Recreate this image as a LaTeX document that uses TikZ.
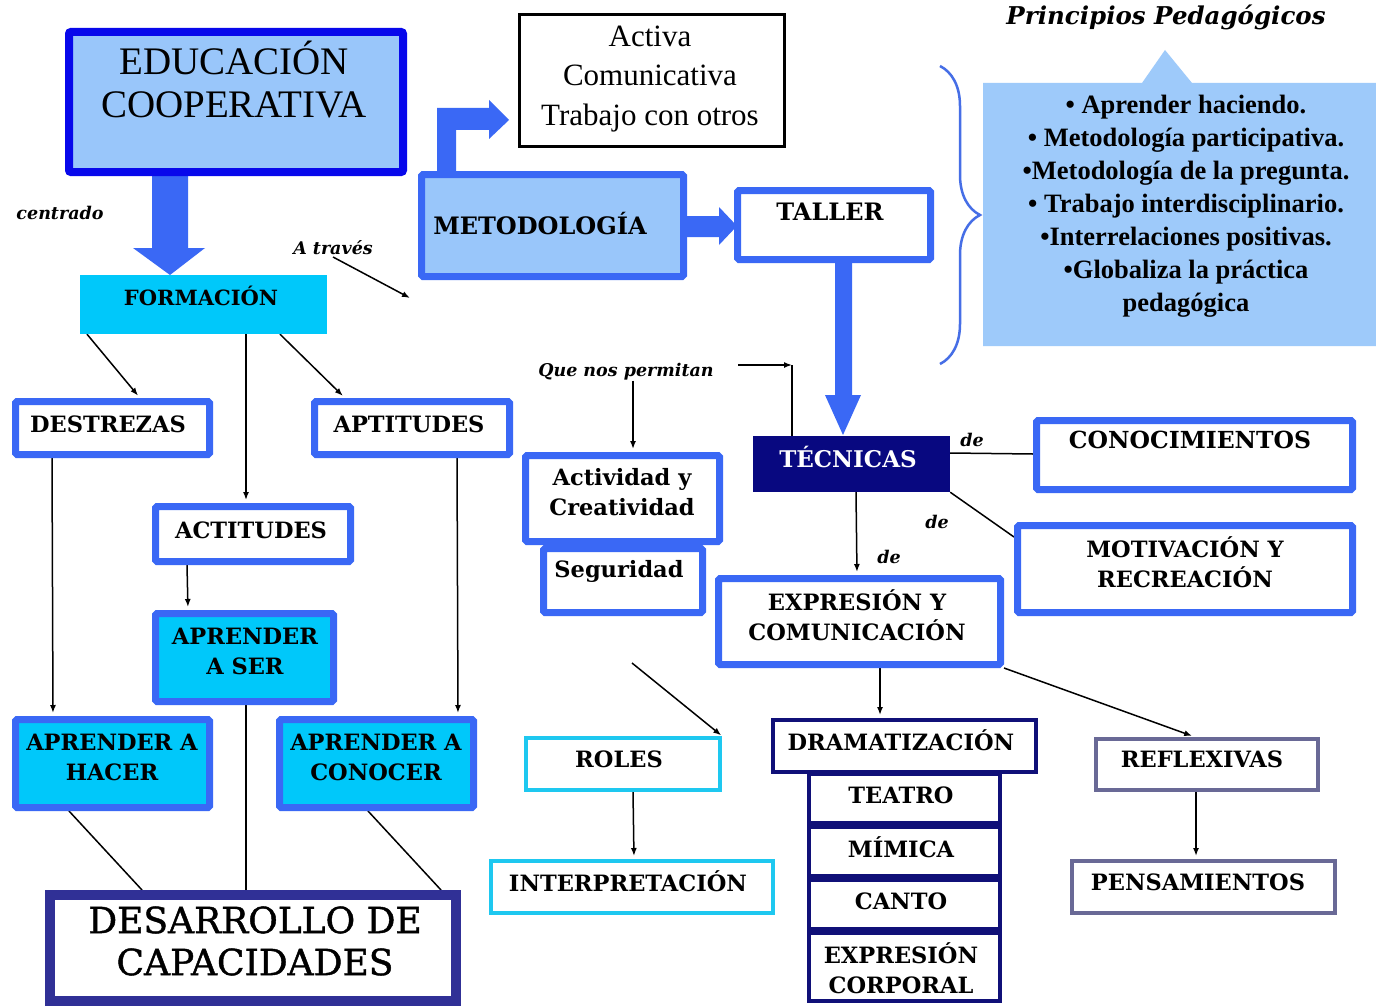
\documentclass[tikz,border=0pt]{standalone}
\usepackage{fontspec}
\setmainfont{DejaVu Serif}
\newfontfamily\tnr{Liberation Serif}
\newfontfamily\heavyserif[FakeBold=1.2]{DejaVu Serif}
\usetikzlibrary{arrows.meta,decorations.pathreplacing}
\definecolor{pureblue}{RGB}{8,8,235}
\definecolor{boxblue}{RGB}{58,104,245}
\definecolor{lightfill}{RGB}{153,198,250}
\definecolor{cyanfill}{RGB}{0,200,250}
\definecolor{navy}{RGB}{8,8,128}
\definecolor{desblue}{RGB}{48,48,150}
\definecolor{dramanavy}{RGB}{16,16,120}
\definecolor{rolecyan}{RGB}{30,200,240}
\definecolor{reflgray}{RGB}{105,105,150}
\definecolor{callfill}{RGB}{158,202,250}
\definecolor{bracecol}{RGB}{70,110,230}
\pgfdeclarelayer{bg}
\pgfsetlayers{bg,main}
\begin{document}
\begin{tikzpicture}[x=1pt,y=-1pt,
  every node/.style={inner sep=0pt},
  box/.style={draw=boxblue, line width=7pt, fill=white, rounded corners=1.5pt},
  cbox/.style={box, fill=cyanfill},
  thinbox/.style={draw=#1, line width=4pt, fill=white},
  lbl/.style={font=\bfseries\fontsize{22.5}{30}\selectfont, align=center},
  itl/.style={font=\bfseries\itshape\fontsize{17.5}{22}\selectfont},
  conn/.style={line width=1.5pt, black},
  arr/.style={conn, -{Latex[length=8pt,width=6pt]}, shorten >=3pt},
  blk/.style={fill=boxblue}
]
\useasboundingbox (0,0) rectangle (1376,1006);
\begin{pgfonlayer}{bg}
\fill[white] (0,0) rectangle (1376,1006);
\end{pgfonlayer}

% ---------- boxes ----------
\node[draw=pureblue, line width=8pt, fill=lightfill, rounded corners=2pt, minimum width=334pt, minimum height=140pt] (educ) at (236,102) {};
\node[fill=cyanfill, minimum width=247pt, minimum height=59pt] (form) at (203.5,304.5) {};
\node[box, minimum width=194pt, minimum height=53pt] (destr) at (112.5,428) {};
\node[box, minimum width=195pt, minimum height=53pt] (aptit) at (412,428) {};
\node[box, minimum width=195pt, minimum height=55pt] (actit) at (253,534) {};
\node[cbox, minimum width=178pt, minimum height=88pt] (aser) at (244.5,657.5) {};
\node[cbox, minimum width=194pt, minimum height=88pt] (ahacer) at (112.5,763.5) {};
\node[cbox, minimum width=194pt, minimum height=88pt] (aconocer) at (376.5,763.5) {};
\node[draw=desblue, line width=10pt, fill=white, minimum width=406pt, minimum height=106pt] (desarr) at (253,948) {};

\node[draw=black, line width=3pt, fill=white, minimum width=265pt, minimum height=132pt] (activa) at (652,80.5) {};
\node[box, fill=lightfill, minimum width=262pt, minimum height=102pt] (metod) at (552.5,225.5) {};
\node[box, minimum width=193pt, minimum height=69pt] (taller) at (834,225) {};
\node[fill=navy, minimum width=197pt, minimum height=56pt] (tecn) at (851.5,464) {};
\node[box, minimum width=159pt, minimum height=64pt] (segur) at (623,580.5) {};
\node[box, minimum width=194pt, minimum height=86pt] (activ) at (622.5,498.5) {};
\node[box, minimum width=316pt, minimum height=69pt] (conoc) at (1194.5,455) {};
\node[box, minimum width=335pt, minimum height=87pt] (motiv) at (1185,569) {};
\node[box, minimum width=282pt, minimum height=86pt] (expr) at (859.5,621.5) {};
\node[thinbox=rolecyan, minimum width=194pt, minimum height=52pt] (roles) at (623,764) {};
\node[thinbox=rolecyan, minimum width=282pt, minimum height=52pt] (interp) at (632,887) {};
\node[thinbox=dramanavy, minimum width=263pt, minimum height=52pt] (drama) at (904.5,746) {};
\node[thinbox=dramanavy, minimum width=191pt, minimum height=49pt] (teatro) at (904.5,798.5) {};
\node[thinbox=dramanavy, minimum width=191pt, minimum height=49pt] (mimica) at (904.5,851.5) {};
\node[thinbox=dramanavy, minimum width=191pt, minimum height=49pt] (canto) at (904.5,904.5) {};
\node[thinbox=dramanavy, minimum width=191pt, minimum height=68pt] (expcorp) at (904.5,967) {};
\node[thinbox=reflgray, minimum width=222pt, minimum height=51pt] (reflex) at (1207,764.5) {};
\node[thinbox=reflgray, minimum width=263pt, minimum height=52pt] (pensa) at (1203.5,887) {};

% callout and brace
\fill[callfill] (983,83) -- (1142,83) -- (1165,50) -- (1192,83) -- (1376,83) -- (1376,346) -- (983,346) -- cycle;
\draw[bracecol, line width=2.5pt, decorate, decoration={brace, amplitude=40pt}] (940,66) -- (940,364);

% ---------- texts ----------
\node[font=\tnr\fontsize{39}{43}\selectfont, align=center] (t_educ) at (234,80) {EDUCACIÓN\\COOPERATIVA};
\node[font=\tnr\fontsize{31}{39.5}\selectfont, align=center] (t_activa) at (650,79) {Activa\\Comunicativa\\Trabajo con otros};
\node[itl] (t_centrado) at (60,213) {centrado};
\node[itl] (t_atraves) at (333,248) {A través};
\node[lbl, font=\bfseries\fontsize{21}{28}\selectfont] (t_form) at (201,296) {FORMACIÓN};
\node[lbl] (t_destr) at (108,424) {DESTREZAS};
\node[lbl] (t_aptit) at (409,424) {APTITUDES};
\node[lbl] (t_actit) at (251,530) {ACTITUDES};
\node[lbl] (t_aser) at (245,651) {APRENDER\\A SER};
\node[lbl] (t_hacer) at (112,757) {APRENDER A\\HACER};
\node[lbl] (t_conocer) at (376,757) {APRENDER A\\CONOCER};
\node[font=\heavyserif\fontsize{36}{42}\selectfont, align=center] (t_desarr) at (255,941) {DESARROLLO DE\\CAPACIDADES};
\node[lbl, font=\bfseries\fontsize{24}{30}\selectfont] (t_metod) at (540,224) {METODOLOGÍA};
\node[lbl, font=\bfseries\fontsize{24}{30}\selectfont] (t_taller) at (830,212) {TALLER};
\node[lbl, text=white, font=\bfseries\fontsize{23}{30}\selectfont] (t_tecn) at (848,457) {TÉCNICAS};
\node[itl] (t_que) at (626,372) {Que nos permitan};
\node[lbl] (t_activ) at (622,492) {Actividad y\\Creatividad};
\node[lbl] (t_segur) at (619,571) {Seguridad};
\node[itl] (t_de1) at (972,440) {de};
\node[itl] (t_de2) at (937,522) {de};
\node[itl] (t_de3) at (889,557) {de};
\node[lbl, font=\bfseries\fontsize{23.5}{30}\selectfont] (t_conoc) at (1190,440) {CONOCIMIENTOS};
\node[lbl] (t_motiv) at (1185,562) {MOTIVACIÓN Y\\RECREACIÓN};
\node[lbl] (t_expr) at (857,615) {EXPRESIÓN Y\\COMUNICACIÓN};
\node[lbl] (t_roles) at (619,759) {ROLES};
\node[lbl] (t_interp) at (628,881) {INTERPRETACIÓN};
\node[lbl] (t_drama) at (901,740) {DRAMATIZACIÓN};
\node[lbl] (t_teatro) at (901,795) {TEATRO};
\node[lbl] (t_mimica) at (901,847) {MÍMICA};
\node[lbl] (t_canto) at (901,901) {CANTO};
\node[lbl] (t_expcorp) at (901,968) {EXPRESIÓN\\CORPORAL};
\node[lbl] (t_reflex) at (1202,759) {REFLEXIVAS};
\node[lbl] (t_pensa) at (1198,882) {PENSAMIENTOS};
\node[font=\bfseries\itshape\fontsize{24.5}{28}\selectfont] (t_princ) at (1166,17) {Principios Pedagógicos};
\node[font=\tnr\bfseries\fontsize{26.5}{33}\selectfont, align=center] (t_list) at (1186,206) {• Aprender haciendo.\\ • Metodología participativa.\\ •Metodología de la pregunta.\\ • Trabajo interdisciplinario.\\ •Interrelaciones positivas.\\ •Globaliza la práctica\\ pedagógica};

% free coordinates
\coordinate (atr_end) at (410,298);
\coordinate (elb_start) at (738,365);
\coordinate (elb_corner) at (792,365);
\coordinate (roles_start) at (632,663);

% ---------- connectors (behind boxes) ----------
\begin{pgfonlayer}{bg}
% block arrows
\fill[blk] (152,170) -- (188,170) -- (188,248) -- (205,248) -- (170,275) -- (133,248) -- (152,248) -- cycle;
\fill[blk] (437,176) -- (437,108) -- (489,108) -- (489,100) -- (509,120) -- (489,139) -- (489,130) -- (456,130) -- (456,176) -- cycle;
\fill[blk] (684,216) -- (719,216) -- (719,207) -- (737,226) -- (719,245) -- (719,237) -- (684,237) -- cycle;
\fill[blk] (835,258) -- (852,258) -- (852,395) -- (861,395) -- (843,435) -- (825,395) -- (835,395) -- cycle;
% thin connectors
\draw[arr] (form.south -| 87,0) -- (destr.north -| 140,0);
\draw[arr] (form.south -| 246,0) -- (actit.north -| 246,0);
\draw[arr] (form.south -| 280,0) -- (aptit.north -| 345,0);
\draw[arr] (actit.south -| 187,0) -- (aser.north -| 188,0);
\draw[arr] (destr.south -| 52,0) -- (ahacer.north -| 53,0);
\draw[arr] (aptit.south -| 457,0) -- (aconocer.north -| 458,0);
\draw[conn] (ahacer.south -| 69,0) -- (desarr.north -| 142,0);
\draw[conn] (aser.south -| 246,0) -- (desarr.north -| 246,0);
\draw[conn] (aconocer.south -| 368,0) -- (desarr.north -| 441,0);
\draw[arr] (t_que.south -| 633,0) -- (activ.north -| 633,0);
\draw[conn] (elb_corner) -- (tecn.north -| elb_corner);
\draw[conn] (tecn.east |- 0,453) -- (conoc.west |- 0,454);
\draw[conn] (tecn.south east) -- (motiv.west |- 0,537);
\draw[arr] (tecn.south -| 856,0) -- (expr.north -| 857,0);
\draw[arr] (expr.south -| 880,0) -- (drama.north -| 880,0);
\draw[arr] (expr.south east) -- (reflex.north -| 1195,0);
\draw[arr] (roles.south -| 633,0) -- (interp.north -| 634,0);
\draw[arr] (reflex.south -| 1196,0) -- (pensa.north -| 1196,0);
\end{pgfonlayer}
\draw[arr, shorten >=0pt] ([yshift=-9pt]t_atraves.center) -- (atr_end);
\draw[arr, shorten >=0pt] (elb_start) -- (elb_corner);
\draw[arr, shorten >=1pt] (roles_start) -- (roles.north east);
\end{tikzpicture}
\end{document}
